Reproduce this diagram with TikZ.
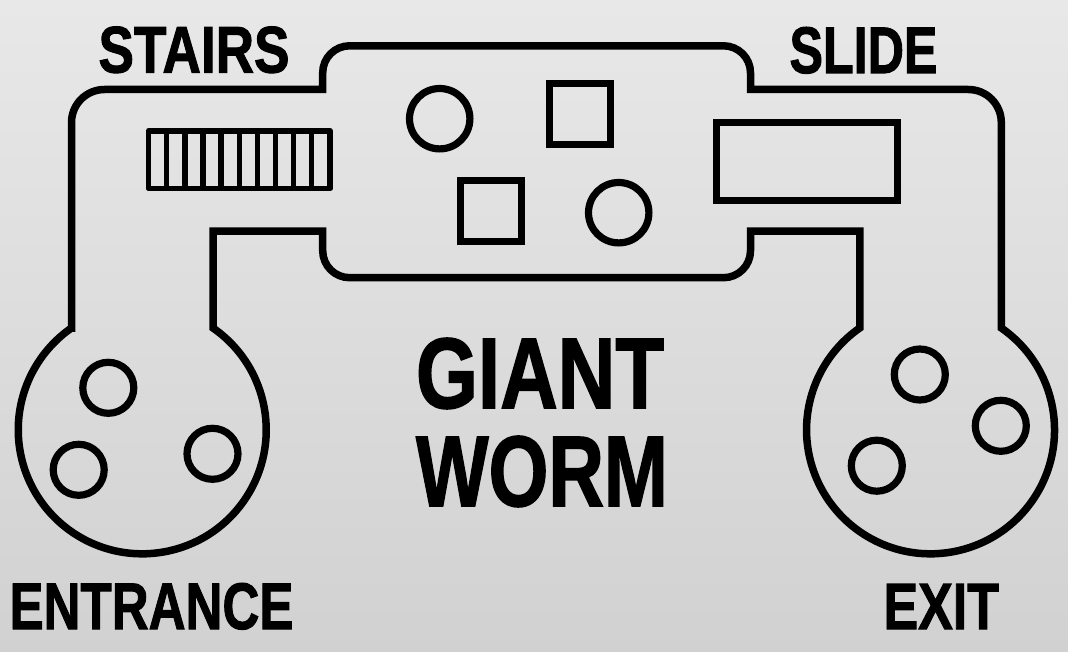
\documentclass[tikz,border=0pt]{standalone}
\usepackage{graphicx}
\usepackage{fontspec}
\setmainfont[BoldFeatures={FakeBold=1.6}]{Liberation Sans}
\newcommand{\fitword}[3]{\resizebox{#2pt}{#3pt}{\bfseries\fontsize{60}{60}\selectfont #1}}
\begin{document}
\begin{tikzpicture}[x=1pt,y=-1pt,
  wall/.style={draw=black,line width=7.5pt,line join=miter,miter limit=10},
  shapeline/.style={draw=black,line width=7.2pt,line join=miter},
  stairline/.style={draw=black,line width=5.5pt,line join=round},
  lab/.style={text=black,inner sep=0pt,outer sep=0pt,anchor=base west}]
\useasboundingbox (0,0) rectangle (1068,652);
\shade[top color=black!9,bottom color=black!18] (0,0) rectangle (1068,652);
% outline of the worm
\draw[wall] (71.5,328) -- (71.5,122.5) arc[start angle=180,end angle=270,radius=33]
  -- (322.7,89.5) -- (322.7,72.8) arc[start angle=180,end angle=270,radius=27]
  -- (723.5,45.8) arc[start angle=270,end angle=360,radius=27]
  -- (750.5,89.5) -- (968.3,89.5) arc[start angle=270,end angle=360,radius=33]
  -- (1001.3,328) arc[start angle=-55.2,end angle=235.2,radius=124]
  -- (859.8,231.2) -- (750.5,231.2) -- (750.5,250.7) arc[start angle=0,end angle=90,radius=27]
  -- (349.7,277.7) arc[start angle=90,end angle=180,radius=27]
  -- (322.7,231.2) -- (213,231.2) -- (213,328) arc[start angle=-55.2,end angle=235.2,radius=124]
  -- cycle;
% stairs
\draw[stairline] (148.5,130.8) rectangle (330.2,188.5);
\foreach \sx in {166.7,185,203,221,239.3,257.3,275.7,293.7,311.7}
  \draw[stairline] (\sx,130.8) -- (\sx,188.5);
% slide
\draw[shapeline] (716.2,122.8) rectangle (897.2,200.2);
% middle obstacles
\draw[shapeline] (439.7,118.7) circle[radius=30.2];
\draw[shapeline] (618.7,212.7) circle[radius=30.2];
\draw[shapeline] (549.2,83.2) rectangle (610.2,144.2);
\draw[shapeline] (460.2,180.2) rectangle (521.2,241.2);
% entrance holes
\draw[shapeline] (108.3,387.8) circle[radius=25.5];
\draw[shapeline] (78.7,469.8) circle[radius=25.5];
\draw[shapeline] (212.5,453.8) circle[radius=25.5];
% exit holes
\draw[shapeline] (919.8,374.5) circle[radius=25.5];
\draw[shapeline] (1000.8,425.8) circle[radius=25.5];
\draw[shapeline] (876.8,465.7) circle[radius=25.5];
% labels
\node[lab] (stairs) at (98.5,72.5) {\fitword{STAIRS}{191}{46}};
\node[lab] (slide) at (789.5,73) {\fitword{SLIDE}{148}{46}};
\node[lab] (entrance) at (9.5,629) {\fitword{ENTRANCE}{284}{46}};
\node[lab] (exit) at (883.5,629) {\fitword{EXIT}{115.5}{45}};
\node[lab] (giant) at (416,408) {\fitword{GIANT}{248}{70}};
\node[lab] (worm) at (416,506) {\fitword{WORM}{252}{70}};
\end{tikzpicture}
\end{document}
